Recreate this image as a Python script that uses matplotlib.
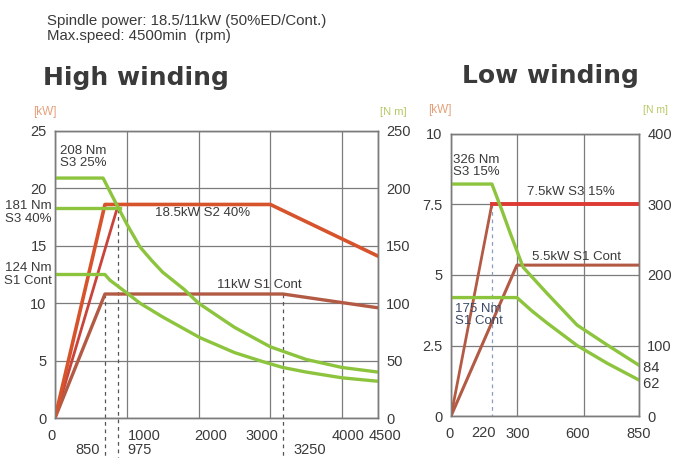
import matplotlib
matplotlib.use('Agg')
import matplotlib.pyplot as plt
from matplotlib.transforms import ScaledTranslation

plt.rcParams['font.family'] = ['Liberation Sans', 'DejaVu Sans']

W, H = 673, 459

# ---------------- High winding data ----------------
hw_xticks = [0, 1000, 2000, 3000, 4000, 4500]
hw_xticklabels = ['0', '1000', '2000', '3000', '4000', '4500']
hw_kw_ticks = [0, 5, 10, 15, 20, 25]
hw_nm_ticks = [0, 50, 100, 150, 200, 250]

# power curves (rpm, kW) as drawn
hw_s2_rpm = [0, 696, 3000, 4500]
hw_s2_kw = [0, 18.6, 18.6, 14.1]
hw_s3_rpm = [0, 877]
hw_s3_kw = [0, 18.5]
hw_s1_rpm = [0, 696, 3175, 4500]
hw_s1_kw = [0, 10.8, 10.8, 9.6]

# torque curves (rpm, Nm) as drawn
hw_t25_rpm = [0, 670, 800, 900, 1000, 1184, 1350, 1500, 1800, 2000, 2500, 3000, 3500, 4000, 4500]
hw_t25_nm = [209, 209, 193, 181, 169, 149, 137, 127, 112, 100, 79, 62, 51, 44, 40]
hw_t40_rpm = [0, 900]
hw_t40_nm = [183, 183]
hw_t1_rpm = [0, 696, 766, 1000, 1184, 1500, 2019, 2500, 2900, 3175, 3500, 4000, 4500]
hw_t1_nm = [125, 125, 120, 109, 100, 88, 70, 57, 49, 44, 40, 35, 32]

hw_dash_rpm = [696, 877, 3175]
hw_dash_top = [10.8, 18.2, 10.8]
hw_dash_labels = ['850', '975', '3250']
hw_dash_label_rpm = [460, 1184, 3551]

# ---------------- Low winding data ----------------
lw_xticks = [0, 300, 600, 850]
lw_xticklabels = ['0', '300', '600', '850']
lw_kw_ticks = [0, 2.5, 5, 7.5, 10]
lw_kw_ticklabels = ['0', '2.5', '5', '7.5', '10']
lw_nm_ticks = [0, 100, 200, 300, 400]

lw_s3_rpm = [0, 185, 850]
lw_s3_kw = [0, 7.52, 7.52]
lw_s1_rpm = [0, 298, 850]
lw_s1_kw = [0, 5.35, 5.35]

lw_t15_rpm = [0, 185, 230, 267, 326, 434, 570, 705, 850]
lw_t15_nm = [329, 329, 292, 260, 211, 174, 129, 101, 72]
lw_t1_rpm = [0, 298, 366, 434, 570, 705, 850]
lw_t1_nm = [168, 168, 149, 132, 100, 75, 51]

lw_dash_rpm = 185
lw_dash_top = 7.52
lw_end_labels = ['84', '62']
lw_end_label_nm = [68, 45]

# ---------------- styling ----------------
text_col = '#3a3a3a'
grid_col = '#7c7c7c'
red_main = '#d6532c'
red_steep = '#c9433a'
red_brown = '#b35a44'
red_bright = '#dd3a33'
green = '#8dc43e'
kw_col = '#e6a07a'
nm_col = '#b5c964'

fig = plt.figure(figsize=(W / 100, H / 100), dpi=100)


def fx(px):
    return px / W


def fy(py):
    return 1 - py / H


def style_axes(ax, axt):
    for a in (ax, axt):
        for s in a.spines.values():
            s.set_color(grid_col)
            s.set_linewidth(1.0)
        a.tick_params(length=0, labelsize=10.5, colors=text_col)
    ax.tick_params(axis='y', pad=6)
    ax.tick_params(axis='x', pad=8)
    axt.tick_params(axis='y', pad=6)
    ax.grid(True, color=grid_col, lw=0.9)
    ax.set_axisbelow(True)


def shift_xlabels(ax, offsets_px):
    for lab, dx in zip(ax.get_xticklabels(), offsets_px):
        lab.set_transform(lab.get_transform() + ScaledTranslation(dx / 100, 0, fig.dpi_scale_trans))


# ======== High winding ========
ax1 = fig.add_axes([fx(55), fy(418), fx(378) - fx(55), fy(131) - fy(418)])
ax1.set_xlim(0, 4500)
ax1.set_ylim(0, 25)
ax1.set_xticks(hw_xticks)
ax1.set_xticklabels(hw_xticklabels)
ax1.set_yticks(hw_kw_ticks)
ax1t = ax1.twinx()
ax1t.set_ylim(0, 250)
ax1t.set_yticks(hw_nm_ticks)
style_axes(ax1, ax1t)
shift_xlabels(ax1, [-3, 18, 12, -8, 6, 7])

for x, top in zip(hw_dash_rpm, hw_dash_top):
    ax1.plot([x, x], [top, -3.4], ls=(0, (3, 3)), color='#555555', lw=0.9, clip_on=False, zorder=2)
for lab, x in zip(hw_dash_labels, hw_dash_label_rpm):
    ax1.text(x, -2.8, lab, ha='center', va='center', fontsize=10.5, color=text_col, clip_on=False)

ax1.plot(hw_s3_rpm, hw_s3_kw, color=red_steep, lw=2.0, zorder=3)
ax1.plot(hw_s1_rpm, hw_s1_kw, color=red_brown, lw=2.4, zorder=3)
ax1.plot(hw_s2_rpm, hw_s2_kw, color=red_main, lw=2.6, zorder=3)

ax1t.plot(hw_t25_rpm, hw_t25_nm, color=green, lw=2.4)
ax1t.plot(hw_t40_rpm, hw_t40_nm, color=green, lw=2.4)
ax1t.plot(hw_t1_rpm, hw_t1_nm, color=green, lw=2.4)

ax1.text(70, 23.8, '208 Nm\nS3 25%', ha='left', va='top', fontsize=9.5, color=text_col, linespacing=1.0)
ax1.text(-42, 17.9, '181 Nm\nS3 40%', ha='right', va='center', fontsize=9.5, color=text_col,
         linespacing=1.05, clip_on=False)
ax1.text(-42, 12.5, '124 Nm\nS1 Cont', ha='right', va='center', fontsize=9.5, color=text_col,
         linespacing=1.05, clip_on=False)
ax1.text(1393, 17.86, '18.5kW S2 40%', ha='left', va='center', fontsize=9.5, color=text_col)
ax1.text(2256, 11.6, '11kW S1 Cont', ha='left', va='center', fontsize=9.5, color=text_col)

fig.text(fx(33), fy(112), '[kW]', ha='left', va='center', fontsize=8.5, color=kw_col)
fig.text(fx(380), fy(112), '[N m]', ha='left', va='center', fontsize=8, color=nm_col)

# ======== Low winding ========
ax2 = fig.add_axes([fx(451), fy(416), fx(639) - fx(451), fy(134) - fy(416)])
ax2.set_xlim(0, 850)
ax2.set_ylim(0, 10)
ax2.set_xticks(lw_xticks)
ax2.set_xticklabels(lw_xticklabels)
ax2.set_yticks(lw_kw_ticks)
ax2.set_yticklabels(lw_kw_ticklabels)
ax2t = ax2.twinx()
ax2t.set_ylim(0, 400)
ax2t.set_yticks(lw_nm_ticks)
style_axes(ax2, ax2t)
shift_xlabels(ax2, [-1, 0, -6, 0])

ax2.plot([lw_dash_rpm, lw_dash_rpm], [lw_dash_top, 0], ls=(0, (3, 3)), color='#8b9dc2', lw=0.9, zorder=2)
ax2.text(145, -0.62, '220', ha='center', va='center', fontsize=10.5, color=text_col, clip_on=False)

ax2.plot(lw_s1_rpm, lw_s1_kw, color=red_brown, lw=2.2, zorder=3)
ax2.plot(lw_s3_rpm[:2], lw_s3_kw[:2], color=red_brown, lw=2.0, zorder=3)
ax2.plot(lw_s3_rpm[1:], lw_s3_kw[1:], color=red_bright, lw=2.8, zorder=3)

ax2t.plot(lw_t15_rpm, lw_t15_nm, color=green, lw=2.4)
ax2t.plot(lw_t1_rpm, lw_t1_nm, color=green, lw=2.4)

for lab, v in zip(lw_end_labels, lw_end_label_nm):
    ax2t.text(850, v, ' ' + lab, ha='left', va='center', fontsize=10.5, color=text_col, clip_on=False)

ax2.text(9, 8.87, '326 Nm\nS3 15%', ha='left', va='center', fontsize=9.5, color=text_col, linespacing=1.0)
ax2.text(344, 7.94, '7.5kW S3 15%', ha='left', va='center', fontsize=9.5, color=text_col)
ax2.text(366, 5.64, '5.5kW S1 Cont', ha='left', va='center', fontsize=9.5, color=text_col)
ax2.text(18, 3.58, '175 Nm\nS1 Cont', ha='left', va='center', fontsize=9.5, color='#3d4a66', linespacing=1.05)

fig.text(fx(428), fy(110), '[kW]', ha='left', va='center', fontsize=8.5, color=kw_col)
fig.text(fx(643), fy(110), '[N m]', ha='left', va='center', fontsize=7.5, color=nm_col)

# ======== Headings ========
fig.text(fx(47), fy(25), 'Spindle power: 18.5/11kW (50%ED/Cont.)', ha='left', va='baseline',
         fontsize=10.8, color=text_col)
fig.text(fx(47), fy(40), 'Max.speed: 4500min  (rpm)', ha='left', va='baseline',
         fontsize=10.8, color=text_col)
fig.text(fx(43), fy(85), 'High winding', ha='left', va='baseline', fontsize=18,
         fontweight='bold', family='DejaVu Sans', color='#3a3a3a')
fig.text(fx(462), fy(83), 'Low winding', ha='left', va='baseline', fontsize=18,
         fontweight='bold', family='DejaVu Sans', color='#3a3a3a')

fig.savefig('out.png', dpi=100, facecolor='white')
